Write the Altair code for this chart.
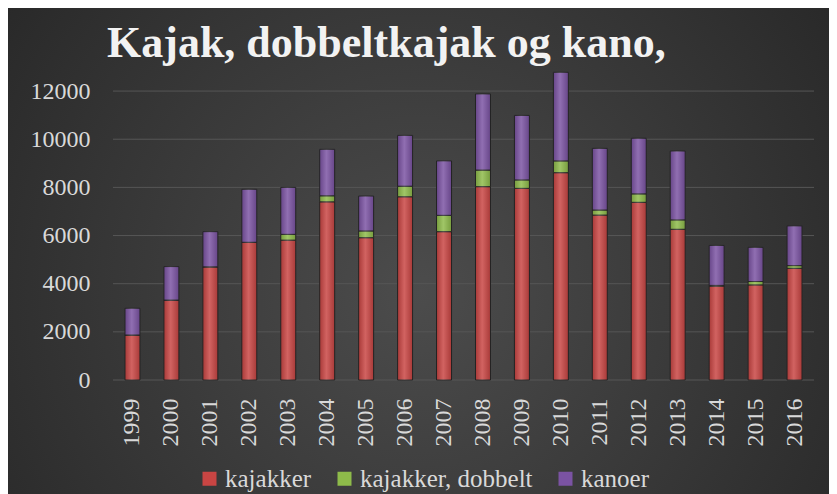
import altair as alt
import pandas as pd

# ---- data ----
years = [str(y) for y in range(1999, 2017)]
kajakker = [1870, 3320, 4700, 5720, 5810, 7400, 5910, 7610, 6160, 8030,
            7960, 8610, 6850, 7380, 6260, 3900, 3950, 4640]
kajakker_dobbelt = [0, 0, 0, 0, 240, 250, 280, 440, 680, 690,
                    350, 490, 210, 350, 390, 30, 140, 110]
kanoer = [1110, 1390, 1460, 2200, 1950, 1930, 1450, 2110, 2260, 3160,
          2680, 3680, 2560, 2310, 2860, 1660, 1420, 1650]
series_names = ["kajakker", "kajakker, dobbelt", "kanoer"]
series_colors = ["#C94543", "#8EBB4A", "#7B53A3"]
y_ticks = [0, 2000, 4000, 6000, 8000, 10000, 12000]
title_text = "Kajak, dobbeltkajak og kano,"

rows = []
for i, yr in enumerate(years):
    for k, (name, vals) in enumerate(zip(series_names, [kajakker, kajakker_dobbelt, kanoer])):
        rows.append({"year": yr, "series": name, "value": vals[i], "order": k})
df = pd.DataFrame(rows)

FONT = "Liberation Serif"
LABEL_COLOR = "#d9d9d9"

yscale = alt.Scale(domain=[0, 13000], nice=False)
xscale = alt.Scale(paddingInner=0, paddingOuter=0)

xaxis = alt.Axis(title=None, labelAngle=-90, labelFont=FONT, labelFontSize=24,
                 labelColor=LABEL_COLOR, labelPadding=18, ticks=False, tickSize=0,
                 domain=False, grid=False, zindex=1)
yaxis = alt.Axis(title=None, values=y_ticks, format="d", labelFont=FONT, labelFontSize=24,
                 labelColor=LABEL_COLOR, labelPadding=23, ticks=False, tickSize=0,
                 domain=False, grid=False, zindex=1)

bg_gradient = {
    "gradient": "radial", "x1": 0.5, "y1": 0.55, "x2": 0.5, "y2": 0.55,
    "r1": 0, "r2": 0.72,
    "stops": [{"offset": 0, "color": "#4c4c4c"}, {"offset": 1, "color": "#232323"}],
}
bar_gradient = {
    "gradient": "linear", "x1": 0, "y1": 0, "x2": 1, "y2": 0,
    "stops": [{"offset": 0, "color": "#000000"},
              {"offset": 0.45, "color": "#ffffff"},
              {"offset": 1, "color": "#000000"}],
}

bg = alt.Chart(pd.DataFrame({"a": [0]})).mark_rect(color=bg_gradient).encode(
    x=alt.value(-105), x2=alt.value(716), y=alt.value(-59), y2=alt.value(427)
)

grid = alt.Chart(pd.DataFrame({"v": y_ticks})).mark_rule(color="#565656", strokeWidth=1).encode(
    y=alt.Y("v:Q", scale=yscale, axis=yaxis)
)

base = alt.Chart(df).transform_stack(
    stack="value", groupby=["year"], as_=["y0", "y1"], sort=[alt.SortField("order")]
)

bars = base.mark_bar(size=15, stroke="#262626", strokeWidth=1).encode(
    x=alt.X("year:N", scale=xscale, axis=xaxis, sort=years),
    y=alt.Y("y0:Q", scale=yscale, axis=yaxis),
    y2="y1:Q",
    color=alt.Color(
        "series:N",
        scale=alt.Scale(domain=series_names, range=series_colors),
        legend=alt.Legend(
            orient="none", legendX=84, legendY=399, direction="horizontal", title=None,
            symbolType="square", symbolSize=196, symbolStrokeWidth=0,
            labelFont=FONT, labelFontSize=25, labelColor=LABEL_COLOR, labelLimit=400,
            columnPadding=20, labelOffset=3, padding=0,
        ),
    ),
)

shine = base.mark_bar(size=15, color=bar_gradient, opacity=0.16).encode(
    x=alt.X("year:N", scale=xscale, axis=xaxis, sort=years),
    y=alt.Y("y0:Q", scale=yscale, axis=yaxis),
    y2="y1:Q",
)

title = alt.Chart(pd.DataFrame({"t": [title_text]})).mark_text(
    align="left", baseline="alphabetic", font=FONT, fontSize=44, fontWeight="bold",
    color="#f2f2f2",
).encode(x=alt.value(-6), y=alt.value(-10), text="t:N")

chart = alt.layer(bg, grid, bars, shine, title).properties(
    width=701, height=313,
    autosize=alt.AutoSizeParams(type="none"),
    padding={"left": 105, "top": 59, "right": 15, "bottom": 114},
).configure(background="#2c2c2c").configure_view(stroke=None)

chart.save("out.html", embed_options={"renderer": "svg", "actions": False})
